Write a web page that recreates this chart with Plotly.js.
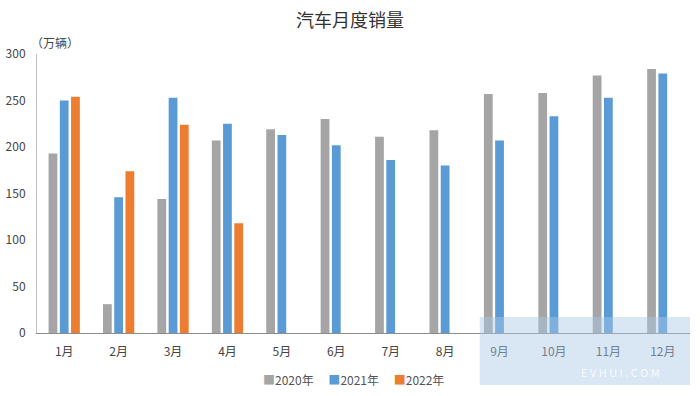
<!DOCTYPE html>
<html>
<head>
<meta charset="utf-8">
<script src="https://cdn.plot.ly/plotly-3.0.1.min.js"></script>
<style>html,body{margin:0;padding:0;background:#fff;}#chart{width:700px;height:396px;}</style>
</head>
<body>
<div id="chart"></div>
<script>
const months = ["1月","2月","3月","4月","5月","6月","7月","8月","9月","10月","11月","12月"];
const sales2020 = [193, 31, 144, 207, 219, 230, 211, 218, 257, 258, 277, 284];
const sales2021 = [250, 146, 253, 225, 213, 202, 186, 180, 207, 233, 253, 279];
const sales2022 = [254, 174, 224, 118, null, null, null, null, null, null, null, null];
const seriesNames = ["2020年", "2021年", "2022年"];
const colors = ["#a5a5a5", "#5b9bd5", "#ed7d31"];

const font = "'Noto Sans CJK SC', 'Liberation Serif', serif";
const traces = [sales2020, sales2021, sales2022].map((vals, i) => ({
  type: "bar",
  x: months,
  y: vals,
  name: seriesNames[i],
  marker: {color: colors[i]},
  hoverinfo: "x+y+name"
}));

const legendText = seriesNames.map((n, i) =>
  "<span style='color:" + colors[i] + "'>■</span>" + n).join("　 ");

const layout = {
  width: 700, height: 396,
  margin: {l: 37, r: 10, t: 54, b: 63, autoexpand: false},
  paper_bgcolor: "#fff", plot_bgcolor: "#fff",
  title: {text: "汽车月度销量", x: 0.5, xanchor: "center", y: 0.948, yanchor: "middle",
          font: {family: font, size: 18, color: "#333"}},
  barmode: "group",
  bargap: 0.38,
  bargroupgap: 0.22,
  showlegend: false,
  xaxis: {
    type: "category",
    showline: true, linecolor: "#8c8c8c", linewidth: 1,
    ticks: "", showgrid: false, ticklabelstandoff: 8,
    tickfont: {family: font, size: 12, color: "#444"}
  },
  yaxis: {
    range: [0, 300], dtick: 50,
    showline: true, linecolor: "#bfbfbf", linewidth: 1,
    showgrid: false, zeroline: false, ticks: "",
    ticklabelstandoff: 8,
    tickfont: {family: font, size: 12, color: "#444"}
  },
  annotations: [
    {text: "（万辆）", xref: "paper", yref: "paper", x: -0.012, y: 1.04, xanchor: "left", yanchor: "middle",
     showarrow: false, font: {family: font, size: 12, color: "#444"}},
    {text: legendText, xref: "paper", yref: "paper", x: 0.485, y: -0.165, xanchor: "center", yanchor: "middle",
     showarrow: false, font: {family: font, size: 12, color: "#555"}},
    {text: "E V H U I . C O M", xref: "paper", yref: "paper", x: 0.893, y: -0.14, xanchor: "center", yanchor: "middle",
     showarrow: false, font: {family: font, size: 11, color: "rgba(255,255,255,0.85)"}}
  ],
  shapes: [
    {type: "rect", xref: "paper", yref: "paper", x0: 0.678, x1: 1.0, y0: -0.186, y1: 0.057,
     fillcolor: "rgba(170,200,230,0.45)", line: {width: 0}, layer: "above"}
  ]
};

Plotly.newPlot("chart", traces, layout, {displayModeBar: false, staticPlot: true});
</script>
</body>
</html>
